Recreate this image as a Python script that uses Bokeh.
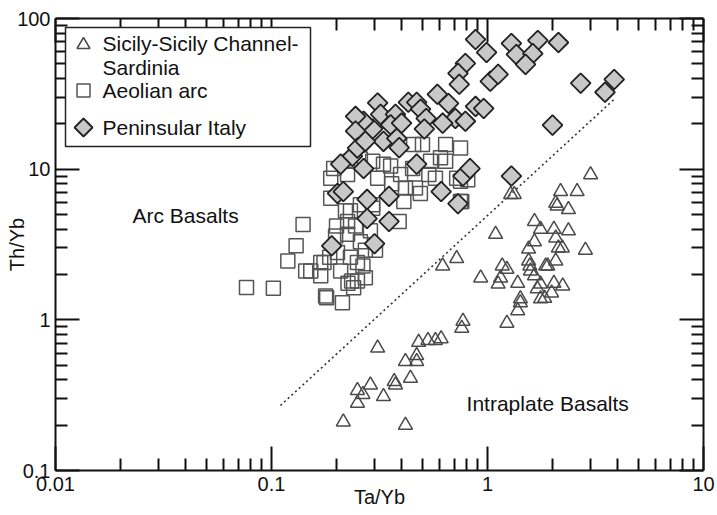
import numpy as np
from bokeh.plotting import figure
from bokeh.models import (LogAxis, FixedTicker, CustomJSTickFormatter, Label,
                          BoxAnnotation, PolyAnnotation, Range1d)
from bokeh.embed import file_html
from bokeh.resources import INLINE

# ---------------- data ----------------
peninsular_ta = [0.88, 0.99, 1.29, 1.71, 2.13, 1.36, 1.62, 1.50, 0.79, 0.73, 0.74, 1.03, 1.12,
                 2.70, 3.86, 3.50, 2.00, 1.29, 0.586, 0.66, 0.88, 0.96, 0.71, 0.79, 0.62, 0.43,
                 0.47, 0.49, 0.52, 0.31, 0.32, 0.375, 0.356, 0.40, 0.51, 0.294, 0.33, 0.38, 0.39,
                 0.267, 0.77, 0.83, 0.73, 0.61, 0.47, 0.35, 0.277, 0.35, 0.277, 0.30, 0.245,
                 0.245, 0.237, 0.209, 0.202, 0.19, 0.25, 0.267, 0.215, 0.272]
peninsular_th = [72.6, 59.5, 68.3, 71.5, 69.3, 57.7, 58.5, 49.6, 50.3, 43.3, 36.6, 38.3, 42.6,
                 37.2, 39.4, 32.4, 19.6, 9.0, 31.4, 27.3, 26.1, 25.3, 21.7, 20.8, 20.2, 27.8,
                 27.8, 25.0, 21.7, 27.5, 23.1, 23.1, 19.7, 20.2, 18.5, 18.5, 15.3, 16.0, 13.9,
                 20.8, 9.0, 10.1, 5.9, 7.1, 10.8, 6.6, 6.3, 4.5, 4.7, 3.2, 22.4,
                 17.9, 12.2, 10.8, 6.9, 3.1, 13.8, 10.1, 7.1, 15.3]

aeolian_ta = [0.0766, 0.102, 0.119, 0.13, 0.14, 0.144, 0.152, 0.169, 0.169, 0.178, 0.18, 0.213,
              0.226, 0.235, 0.25, 0.175, 0.188, 0.194, 0.188, 0.22, 0.225, 0.232, 0.258, 0.294,
              0.33, 0.225, 0.31, 0.232, 0.225, 0.294, 0.258, 0.186, 0.202, 0.232, 0.24, 0.272,
              0.25, 0.455, 0.50, 0.64, 0.75, 0.606, 0.45, 0.535, 0.574, 0.464, 0.489, 0.75,
              0.81, 0.396, 0.41, 0.75, 0.39, 0.294, 0.64, 0.72, 0.76, 0.36, 0.417, 0.287,
              0.258, 0.20, 0.245, 0.272, 0.198, 0.209, 0.265, 0.545, 0.303, 0.356]
aeolian_th = [1.64, 1.62, 2.46, 3.1, 4.3, 2.11, 2.11, 2.4, 1.96, 1.44, 1.40, 1.30,
              1.75, 1.81, 2.4, 2.4, 8.7, 10.1, 6.4, 5.3, 3.7, 11.3, 11.7, 11.3,
              10.8, 9.2, 8.7, 5.3, 4.5, 5.8, 5.8, 2.6, 2.8, 2.6, 1.63, 1.90,
              1.81, 14.6, 14.6, 14.6, 13.8, 11.9, 10.1, 9.2, 8.7, 7.5, 6.9, 8.3,
              8.5, 9.2, 6.1, 6.1, 4.5, 5.5, 11.3, 8.7, 6.1, 8.0, 7.5, 3.9,
              3.3, 4.2, 4.2, 2.9, 3.6, 2.11, 2.28, 11.3, 2.9, 10.5]

sicily_ta = [3.0, 2.18, 2.6, 2.07, 2.1, 2.37, 1.28, 1.33, 1.65, 1.76, 2.03, 2.37, 2.07, 1.65,
             2.13, 1.55, 2.84, 1.09, 0.72, 0.62, 1.55, 2.07, 1.17, 1.23, 1.90, 1.58, 1.65,
             0.93, 1.15, 1.38, 1.12, 1.76, 2.03, 2.23, 1.70, 1.98, 1.84, 1.42, 1.38, 1.23,
             0.77, 0.76, 0.31, 0.48, 0.53, 0.574, 0.61, 0.417, 0.47, 0.47, 0.44, 0.37,
             0.375, 0.287, 0.33, 0.265, 0.25, 0.215, 0.417, 1.57, 1.86, 2.22, 1.42, 1.76, 0.25]
sicily_th = [9.2, 7.1, 7.1, 5.95, 5.7, 5.4, 6.8, 6.8, 4.5, 4.0, 4.0, 3.9, 3.5, 3.3,
             3.0, 2.95, 2.9, 3.7, 2.55, 2.28, 2.46, 2.46, 2.28, 2.17, 2.28, 2.11, 1.96,
             1.90, 1.90, 1.75, 1.73, 1.73, 1.75, 1.68, 1.61, 1.51, 1.39, 1.30, 1.15, 0.95,
             0.98, 0.88, 0.65, 0.71, 0.73, 0.73, 0.75, 0.53, 0.58, 0.53, 0.41, 0.39,
             0.37, 0.37, 0.31, 0.32, 0.28, 0.21, 0.20, 2.28, 2.28, 3.0, 1.38, 1.38, 0.34]

# dividing line between fields
divide_ta = [0.11, 3.9]
divide_th = [0.27, 29.5]

x_major = [0.01, 0.1, 1, 10]
y_major = [0.1, 1, 10, 100]
legend_names = ["Sicily-Sicily Channel-", "Sardinia", "Aeolian arc", "Peninsular Italy"]
field_names = ["Arc Basalts", "Intraplate Basalts"]
axis_names = ["Ta/Yb", "Th/Yb"]

# ---------------- figure ----------------
FONT = "Liberation Sans"
INK = "#111111"
W, H = 717, 515
ML, MR, MT, MB = 55, 14, 18, 45

p = figure(width=W, height=H, x_axis_type="log", y_axis_type="log",
           x_range=Range1d(0.01, 10), y_range=Range1d(0.1, 100),
           output_backend="svg", toolbar_location=None,
           min_border_left=ML, min_border_right=MR, min_border_top=MT, min_border_bottom=MB)
p.xgrid.visible = False
p.ygrid.visible = False
p.outline_line_color = None
p.background_fill_color = "white"
p.border_fill_color = "white"

def minors(lo, hi):
    return [m * 10.0 ** e for e in range(lo, hi) for m in range(2, 10)]

def style(ax, ticker, labels):
    ax.ticker = ticker
    ax.axis_line_width = 2
    ax.axis_line_color = INK
    ax.major_tick_line_width = 2
    ax.minor_tick_line_width = 2
    ax.major_tick_line_color = INK
    ax.minor_tick_line_color = INK
    ax.major_tick_in = 24
    ax.major_tick_out = 0
    ax.minor_tick_in = 12
    ax.minor_tick_out = 0
    if labels:
        ax.formatter = CustomJSTickFormatter(code="return String(tick)")
        ax.major_label_text_font = FONT
        ax.major_label_text_font_size = "20px"
        ax.major_label_text_color = INK
        ax.axis_label_text_font = FONT
        ax.axis_label_text_font_size = "20px"
        ax.axis_label_text_font_style = "normal"
        ax.axis_label_text_color = INK
    else:
        ax.formatter = CustomJSTickFormatter(code="return ''")
        ax.major_label_text_font_size = "1px"
        ax.major_label_standoff = 0

xa = p.xaxis[0]
style(xa, FixedTicker(ticks=x_major, minor_ticks=minors(-2, 1)), True)
xa.major_label_standoff = 6
xa.axis_label = axis_names[0]
xa.axis_label_standoff = -8

ya = p.yaxis[0]
style(ya, FixedTicker(ticks=y_major, minor_ticks=minors(-1, 2)), True)
ya.major_label_standoff = 5
ya.axis_label = axis_names[1]
ya.axis_label_standoff = -14

top = LogAxis()
style(top, FixedTicker(ticks=x_major, minor_ticks=minors(-2, 1)), False)
p.add_layout(top, "above")
right = LogAxis()
style(right, FixedTicker(ticks=y_major, minor_ticks=minors(-1, 2)), False)
p.add_layout(right, "right")

# dividing line
p.line(divide_ta, divide_th, line_dash="2 3", line_width=1.6, line_color="#333333")

# data
p.scatter(sicily_ta, sicily_th, marker="triangle", size=14, fill_color=None,
          line_color="#4a4a4a", line_width=1.5)
p.scatter(aeolian_ta, aeolian_th, marker="square", size=14, fill_color=None,
          line_color="#555555", line_width=1.5)
p.scatter(peninsular_ta, peninsular_th, marker="square", angle=np.pi / 4, size=14,
          fill_color="#c8c8c8", line_color="#222222", line_width=1.8)

# field names
p.add_layout(Label(x=0.04, y=4.9, text=field_names[0], text_align="center",
                   text_baseline="middle", text_font=FONT, text_font_size="21px",
                   text_color=INK))
p.add_layout(Label(x=1.9, y=0.278, text=field_names[1], text_align="center",
                   text_baseline="middle", text_font=FONT, text_font_size="21px",
                   text_color=INK))

# legend (drawn with annotations, frame-relative screen units)
p.add_layout(BoxAnnotation(left=10, right=255, top=443, bottom=324,
                           left_units="screen", right_units="screen",
                           top_units="screen", bottom_units="screen",
                           fill_color="white", fill_alpha=1.0,
                           line_color="#222222", line_width=1.5, line_alpha=1.0))
gx = 28
ty, sy, dy = 427, 380, 343
p.add_layout(PolyAnnotation(xs=[gx - 6.5, gx + 6.5, gx], ys=[ty - 5, ty - 5, ty + 6],
                            xs_units="screen", ys_units="screen", fill_color=None,
                            fill_alpha=0, line_color="#4a4a4a", line_width=1.5, line_alpha=1))
p.add_layout(PolyAnnotation(xs=[gx - 6.5, gx + 6.5, gx + 6.5, gx - 6.5],
                            ys=[sy - 6.5, sy - 6.5, sy + 6.5, sy + 6.5],
                            xs_units="screen", ys_units="screen", fill_color=None,
                            fill_alpha=0, line_color="#555555", line_width=1.5, line_alpha=1))
p.add_layout(PolyAnnotation(xs=[gx, gx + 9, gx, gx - 9], ys=[dy - 9, dy, dy + 9, dy],
                            xs_units="screen", ys_units="screen", fill_color="#c8c8c8",
                            fill_alpha=1, line_color="#222222", line_width=1.8, line_alpha=1))
for name, yy in zip(legend_names, [427, 403, 380, 343]):
    p.add_layout(Label(x=47, y=yy, x_units="screen", y_units="screen", text=name,
                       text_align="left", text_baseline="middle", text_font=FONT,
                       text_font_size="21px", text_color=INK))

open("out.html", "w").write(file_html(p, INLINE))
